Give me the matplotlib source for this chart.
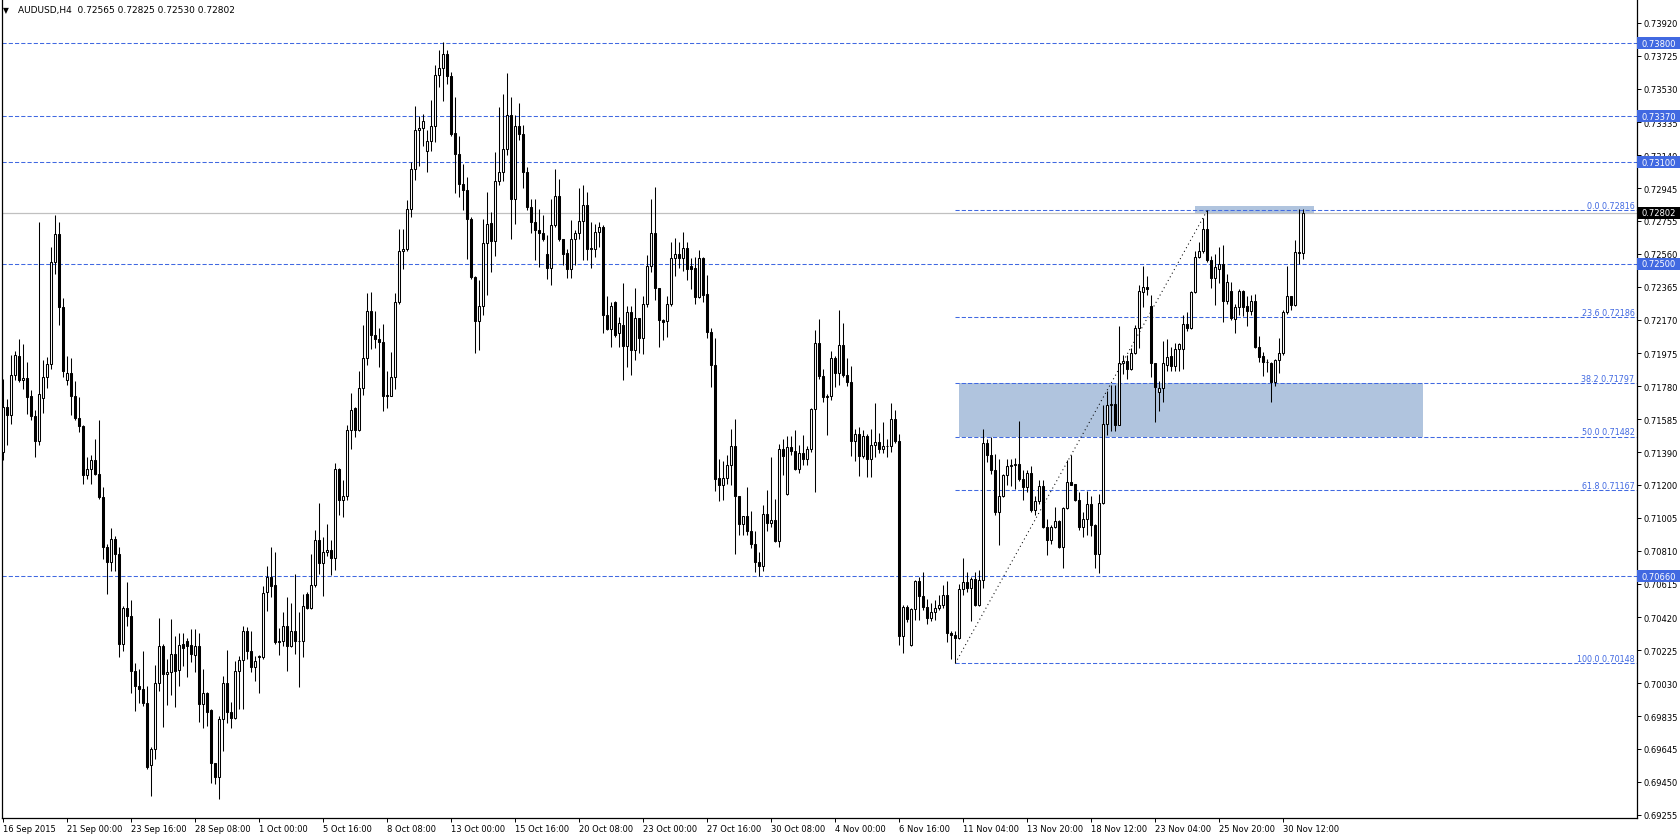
"""AUDUSD H4 candlestick chart, MetaTrader style."""
import matplotlib
matplotlib.use("Agg")
import matplotlib.pyplot as plt
import matplotlib.transforms as mtransforms
from matplotlib.patches import Rectangle
import numpy as np

OPEN = [
    .71392, .71657, .71608, .71844, .71958, .71815, .71828, .71722, .71604, .71457,
    .71710, .71834, .71913, .72513, .72674, .72247, .71815, .71860, .71722, .71592,
    .71545, .71254, .71293, .71345, .71264, .71126, .70831, .70743, .70880, .70792,
    .70261, .70471, .70424, .70103, .70015, .69995, .69913, .69549, .69641, .70031,
    .70247, .70084, .70099, .70202, .70109, .70260, .70280, .70255, .70196, .70247,
    .69907, .69972, .69871, .69563, .69480, .69818, .70031, .69863, .69828, .70100,
    .70166, .70336, .70221, .70123, .70182, .70182, .70566, .70658, .70609, .70271,
    .70281, .70369, .70247, .70336, .70277, .70277, .70556, .70471, .70611, .70876,
    .70737, .70806, .70814, .70768, .71290, .71107, .71134, .71519, .71650, .71524,
    .71769, .71944, .72223, .72079, .72056, .72038, .71730, .71719, .71833, .72276,
    .72578, .72585, .72826, .73060, .73289, .73300, .73163, .73225, .73312, .73614,
    .73656, .73736, .73605, .73271, .73145, .72968, .72934, .72762, .72425, .72166,
    .72253, .72624, .72743, .72633, .72988, .73041, .73178, .73378, .72880, .73311,
    .73262, .73041, .72835, .72747, .72698, .72684, .72561, .72477, .72731, .72898,
    .72649, .72567, .72469, .72649, .72684, .72753, .72849, .72594, .72586, .72688,
    .72718, .72199, .72116, .72273, .72091, .72140, .72018, .72218, .71993, .72179,
    .72061, .72261, .72488, .72684, .72359, .72169, .72163, .72263, .72533, .72558,
    .72533, .72592, .72487, .72474, .72306, .72533, .72320, .72096, .71903, .71240,
    .71195, .71240, .71317, .71427, .71132, .70969, .71014, .70929, .70851, .70747,
    .70719, .71028, .70975, .70994, .70870, .71407, .71146, .71421, .71396, .71293,
    .71388, .71352, .71411, .71643, .72035, .71839, .71715, .71719, .71945, .71856,
    .72023, .71848, .71803, .71454, .71499, .71368, .71489, .71348, .71436, .71450,
    .71407, .71426, .71426, .71587, .71454, .70311, .70478, .70253, .70468, .70635,
    .70543, .70478, .70413, .70449, .70472, .70492, .70551, .70327, .70317, .70296,
    .70586, .70629, .70590, .70645, .70492, .70640, .71447, .71373, .71284, .71039,
    .71133, .71255, .71310, .71318, .71324, .71235, .71186, .71269, .71049, .71102,
    .71192, .70950, .70872, .70950, .70984, .70833, .71062, .71216, .71206, .71108,
    .70950, .71000, .71088, .70960, .70793, .71094, .71559, .71671, .71677, .71553,
    .71919, .71926, .71879, .71978, .72123, .72337, .72363, .72251, .71917, .71744,
    .71768, .71906, .71956, .71901, .71999, .71999, .72147, .72121, .72333, .72539,
    .72578, .72706, .72520, .72415, .72470, .72500, .72284, .72343, .72176, .72245,
    .72343, .72251, .72225, .72284, .72009, .71956, .71921, .71917, .71807, .71931,
    .71976, .72215, .72310, .72255, .72569, .72565,
]
HIGH = [
    .71824, .71706, .71962, .71986, .72060, .72031, .71923, .71756, .71638, .72749,
    .71933, .71952, .72601, .72788, .72745, .72300, .71958, .71946, .71811, .71716,
    .71553, .71362, .71372, .71466, .71579, .71185, .70851, .70943, .70900, .70831,
    .70487, .70629, .70520, .70149, .70117, .70219, .70015, .69657, .70137, .70414,
    .70260, .70172, .70408, .70310, .70326, .70326, .70294, .70351, .70351, .70326,
    .70113, .69976, .69877, .69563, .69838, .70074, .70227, .69917, .70162, .70192,
    .70365, .70359, .70336, .70192, .70196, .70605, .70719, .70831, .70806, .70353,
    .70448, .70536, .70503, .70674, .70448, .70556, .70570, .70792, .70934, .71091,
    .70890, .70969, .70871, .71329, .71300, .71226, .71552, .71737, .71657, .71868,
    .72138, .72326, .72335, .72223, .72120, .72147, .71868, .71982, .72326, .72704,
    .72704, .72876, .73099, .73431, .73369, .73385, .73289, .73465, .73672, .73759,
    .73809, .73759, .73628, .73484, .73255, .73087, .73009, .72778, .72430, .72407,
    .72766, .72923, .72806, .73158, .73423, .73501, .73625, .73482, .73374, .73448,
    .73319, .73070, .72880, .72880, .72826, .72786, .72669, .72884, .73061, .72998,
    .72649, .72590, .72757, .72698, .72949, .72967, .72923, .72747, .72737, .72747,
    .72728, .72312, .72277, .72281, .72189, .72385, .72253, .72253, .72359, .72183,
    .72312, .72551, .72881, .72955, .72359, .72174, .72310, .72631, .72655, .72627,
    .72686, .72627, .72533, .72542, .72582, .72538, .72434, .72120, .72061, .71352,
    .71337, .71372, .71525, .71584, .71132, .71018, .71185, .71047, .70929, .70802,
    .71081, .71166, .71362, .71116, .71441, .71466, .71486, .71486, .71520, .71435,
    .71490, .71427, .71651, .72111, .72176, .71878, .71735, .71986, .71960, .72229,
    .72153, .71945, .71897, .71528, .71542, .71524, .71499, .71528, .71682, .71505,
    .71568, .71470, .71682, .71640, .71499, .70492, .70492, .70472, .70641, .70655,
    .70684, .70527, .70504, .70523, .70547, .70610, .70635, .70339, .70339, .70616,
    .70767, .70684, .70655, .70688, .70695, .71530, .71471, .71481, .71382, .71353,
    .71265, .71349, .71353, .71357, .71575, .71284, .71284, .71310, .71133, .71225,
    .71225, .71000, .70964, .71068, .70990, .71068, .71343, .71373, .71206, .71157,
    .71039, .71161, .71133, .70967, .71147, .71671, .71750, .71785, .71789, .72135,
    .71962, .71962, .72005, .72139, .72378, .72490, .72431, .72317, .71917, .71813,
    .72043, .72058, .72009, .72035, .72035, .72200, .72219, .72343, .72573, .72631,
    .72769, .72816, .72549, .72559, .72598, .72612, .72441, .72392, .72264, .72353,
    .72349, .72313, .72317, .72323, .72078, .71980, .71937, .71921, .71937, .72062,
    .72231, .72490, .72310, .72643, .72824, .72825,
]
LOW = [
    .71343, .71431, .71559, .71815, .71805, .71765, .71618, .71579, .71362, .71431,
    .71624, .71769, .71883, .72438, .72139, .71834, .71789, .71608, .71579, .71510,
    .71205, .71234, .71205, .71254, .71116, .70762, .70556, .70693, .70693, .70182,
    .70221, .70369, .69972, .69867, .69913, .69897, .69527, .69366, .69582, .69985,
    .69773, .69903, .69960, .69891, .70015, .70133, .70066, .70153, .70094, .69803,
    .69769, .69779, .69445, .69435, .69350, .69631, .69799, .69769, .69818, .69877,
    .69877, .70172, .70094, .70044, .69970, .70172, .70454, .70536, .70261, .70196,
    .70251, .70103, .70245, .70202, .70011, .70182, .70467, .70467, .70595, .70674,
    .70546, .70779, .70665, .70699, .71024, .71008, .71111, .71409, .71483, .71517,
    .71730, .71902, .72001, .72005, .71891, .71632, .71650, .71719, .71765, .72262,
    .72468, .72573, .72778, .72996, .73078, .73197, .73041, .73163, .73220, .73541,
    .73461, .73561, .73255, .72918, .72895, .72819, .72526, .72413, .71976, .71994,
    .72200, .72316, .72453, .72547, .72963, .72986, .73139, .72645, .72733, .73227,
    .72947, .72816, .72679, .72522, .72483, .72633, .72410, .72375, .72718, .72633,
    .72496, .72414, .72414, .72492, .72649, .72522, .72522, .72473, .72541, .72600,
    .72091, .72110, .72012, .72071, .72012, .71817, .71895, .71846, .71934, .71973,
    .71967, .72249, .72454, .72287, .72008, .72051, .72070, .72253, .72430, .72474,
    .72458, .72405, .72352, .72261, .72302, .72273, .72061, .71775, .71165, .71101,
    .71112, .71205, .71199, .70792, .70904, .70904, .70904, .70825, .70684, .70664,
    .70693, .70924, .70949, .70861, .70831, .71254, .71140, .71372, .71284, .71270,
    .71313, .71313, .71392, .71159, .71823, .71689, .71493, .71701, .71774, .71784,
    .71833, .71780, .71367, .71342, .71250, .71354, .71244, .71244, .71362, .71387,
    .71387, .71362, .71391, .71446, .70256, .70209, .70390, .70249, .70400, .70400,
    .70459, .70380, .70399, .70400, .70459, .70472, .70276, .70174, .70148, .70289,
    .70547, .70567, .70394, .70488, .70488, .70590, .71333, .71265, .71023, .70846,
    .71127, .71196, .71194, .71176, .71219, .71108, .71157, .71039, .71023, .71088,
    .70944, .70787, .70852, .70944, .70826, .70709, .71054, .71196, .71102, .70931,
    .70892, .70905, .70900, .70709, .70681, .71088, .71490, .71514, .71514, .71549,
    .71854, .71820, .71873, .71972, .72005, .72245, .72317, .71832, .71570, .71636,
    .71689, .71872, .71872, .71872, .71872, .71882, .72107, .72115, .72329, .72533,
    .72565, .72513, .72357, .72255, .72386, .72156, .72264, .72172, .72094, .72200,
    .72196, .72133, .72200, .72003, .71925, .71838, .71866, .71689, .71779, .71858,
    .71964, .72206, .72231, .72251, .72500, .72530,
]
CLOSE = [
    .71657, .71608, .71844, .71966, .71815, .71828, .71716, .71604, .71457, .71736,
    .71834, .71913, .72513, .72674, .72247, .71868, .71860, .71722, .71592, .71545,
    .71254, .71293, .71345, .71264, .71126, .70831, .70743, .70880, .70792, .70261,
    .70471, .70424, .70103, .70015, .69995, .69913, .69539, .69641, .70031, .70247,
    .70084, .70099, .70202, .70103, .70255, .70235, .70250, .70202, .70247, .69907,
    .69972, .69862, .69563, .69480, .69818, .70031, .69863, .69828, .70100, .70166,
    .70336, .70221, .70123, .70159, .70192, .70562, .70654, .70601, .70271, .70281,
    .70369, .70247, .70336, .70277, .70280, .70487, .70471, .70611, .70876, .70737,
    .70806, .70814, .70768, .71290, .71107, .71134, .71519, .71639, .71524, .71769,
    .71944, .72223, .72079, .72056, .72038, .71719, .71719, .71833, .72276, .72578,
    .72585, .72826, .73060, .73289, .73300, .73342, .73225, .73312, .73614, .73656,
    .73736, .73605, .73266, .73145, .72968, .72934, .72762, .72425, .72166, .72253,
    .72624, .72737, .72633, .72988, .73041, .73178, .73378, .72880, .73311, .73262,
    .73041, .72835, .72747, .72698, .72684, .72645, .72477, .72731, .72898, .72645,
    .72561, .72469, .72649, .72684, .72753, .72849, .72586, .72586, .72688, .72718,
    .72199, .72116, .72253, .72081, .72154, .72018, .72218, .71993, .72183, .72061,
    .72261, .72488, .72684, .72359, .72169, .72155, .72263, .72533, .72558, .72533,
    .72592, .72470, .72470, .72306, .72533, .72316, .72096, .71903, .71234, .71195,
    .71240, .71317, .71427, .71132, .70969, .71014, .70924, .70851, .70743, .70719,
    .71028, .70975, .70994, .70870, .71407, .71368, .71421, .71396, .71293, .71388,
    .71352, .71411, .71643, .72035, .71839, .71715, .71719, .71945, .71856, .72023,
    .71848, .71803, .71454, .71499, .71368, .71489, .71348, .71436, .71450, .71407,
    .71426, .71430, .71587, .71454, .70311, .70478, .70406, .70468, .70635, .70543,
    .70478, .70413, .70449, .70472, .70492, .70551, .70327, .70317, .70296, .70586,
    .70629, .70590, .70645, .70492, .70640, .71447, .71373, .71284, .71039, .71133,
    .71255, .71310, .71318, .71322, .71235, .71186, .71269, .71049, .71102, .71192,
    .70950, .70872, .70950, .70984, .70833, .71062, .71216, .71196, .71108, .70950,
    .71000, .71088, .70960, .70793, .71094, .71559, .71671, .71677, .71553, .71919,
    .71926, .71879, .71978, .72123, .72339, .72363, .72353, .71917, .71774, .71768,
    .71917, .71950, .71901, .71999, .72029, .72147, .72121, .72333, .72539, .72578,
    .72706, .72520, .72415, .72480, .72500, .72284, .72392, .72180, .72245, .72343,
    .72245, .72225, .72284, .72009, .71950, .71921, .71925, .71807, .71931, .71976,
    .72215, .72310, .72255, .72569, .72565, .72802,
]

DATE_LABELS = [
    "16 Sep 2015", "21 Sep 00:00", "23 Sep 16:00", "28 Sep 08:00", "1 Oct 00:00",
    "5 Oct 16:00", "8 Oct 08:00", "13 Oct 00:00", "15 Oct 16:00", "20 Oct 08:00",
    "23 Oct 00:00", "27 Oct 16:00", "30 Oct 08:00", "4 Nov 00:00", "6 Nov 16:00",
    "11 Nov 04:00", "13 Nov 20:00", "18 Nov 12:00", "23 Nov 04:00", "25 Nov 20:00",
    "30 Nov 12:00",
]
PRICE_TICKS = [
    0.73920, 0.73725, 0.73530, 0.73335, 0.73140, 0.72945, 0.72755, 0.72560, 0.72365,
    0.72170, 0.71975, 0.71780, 0.71585, 0.71390, 0.71200, 0.71005, 0.70810, 0.70615,
    0.70420, 0.70225, 0.70030, 0.69835, 0.69645, 0.69450, 0.69255,
]
LEVELS = [0.73800, 0.73370, 0.73100, 0.72500, 0.70660]
BID = 0.72802
FIB_PCT = ["0.0", "23.6", "38.2", "50.0", "61.8", "100.0"]
FIB_PRICE = [0.72816, 0.72186, 0.71797, 0.71482, 0.71167, 0.70148]
FIB_BARS = [238, 301]          # swing low bar, swing high bar
ZONE = [239.0, 354.9, 0.71482, 0.71797]
TOP_ZONE = [297.9, 327.7, 0.72796, 0.72840]
TITLE = "AUDUSD,H4  0.72565 0.72825 0.72530 0.72802"

BLUE = "#4169e1"
ZONE_COLOR = "#b0c4de"
W, H = 1681, 837


def main():
    fig = plt.figure(figsize=(W / 100, H / 100), dpi=100)
    ax = fig.add_axes([2 / W, 18 / H, 1635 / W, 819 / H])
    ax.set_xlim(-0.325, 408.43)
    ax.set_ylim(0.692366, 0.74060)

    o = np.array(OPEN)
    h = np.array(HIGH)
    lo = np.array(LOW)
    c = np.array(CLOSE)
    x = np.arange(len(c))
    up = c >= o
    bottom = np.minimum(o, c)
    height = np.maximum(np.abs(c - o), 0.00002)

    # zones and lines behind the candles
    ax.add_patch(Rectangle((ZONE[0], ZONE[2]), ZONE[1] - ZONE[0], ZONE[3] - ZONE[2],
                           facecolor=ZONE_COLOR, edgecolor="none", zorder=0.5))
    ax.add_patch(Rectangle((TOP_ZONE[0], TOP_ZONE[2]), TOP_ZONE[1] - TOP_ZONE[0],
                           TOP_ZONE[3] - TOP_ZONE[2],
                           facecolor=ZONE_COLOR, edgecolor="none", zorder=0.5))
    ax.axhline(BID, color="#c0c0c0", lw=0.9, zorder=1)
    for lv in LEVELS:
        ax.axhline(lv, color=BLUE, lw=0.75, ls=(0, (4, 2)), zorder=1.2)
    ax.hlines(FIB_PRICE, FIB_BARS[0], 408.43, color=BLUE, lw=0.75,
              linestyles=[(0, (4, 2))], zorder=1.2)
    ax.plot([FIB_BARS[0], FIB_BARS[1]], [FIB_PRICE[-1], FIB_PRICE[0]],
            color="black", lw=0.75, ls=(0, (1, 3)), zorder=1.3)

    # candles
    ax.vlines(x, lo, h, color="black", lw=0.75, zorder=3)
    ax.bar(x[up], height[up], 0.5, bottom=bottom[up], facecolor="white",
           edgecolor="black", lw=0.75, zorder=4)
    ax.bar(x[~up], height[~up], 0.5, bottom=bottom[~up], facecolor="black",
           edgecolor="black", lw=0.75, zorder=4)

    # fibo labels
    bt = mtransforms.blended_transform_factory(ax.transAxes, ax.transData)
    for pct, pr in zip(FIB_PCT, FIB_PRICE):
        ax.text(0.9985, pr + 0.00003, f"{pct} {pr:.5f}", transform=bt, ha="right",
                va="bottom", fontsize=5.8, color=BLUE, zorder=5)

    # axes look
    ax.spines["top"].set_visible(False)
    for side in ["left", "right", "bottom"]:
        ax.spines[side].set_linewidth(0.9)
    ax.yaxis.tick_right()
    ax.set_yticks(PRICE_TICKS)
    ax.set_yticklabels([f"{t:.5f}" for t in PRICE_TICKS])
    ax.tick_params(axis="y", direction="out", length=3, width=0.7, pad=2,
                   labelsize=6)
    ax.set_xticks(np.arange(0, 16 * len(DATE_LABELS), 16))
    ax.set_xticklabels(DATE_LABELS, ha="left")
    ax.tick_params(axis="x", direction="out", length=3, width=0.7, pad=1.5,
                   labelsize=6)

    # price boxes on the axis
    box_h = 0.00070
    for lv in LEVELS:
        ax.add_patch(Rectangle((1.0, lv - box_h / 2), 44 / 1635, box_h, transform=bt,
                               facecolor=BLUE, edgecolor="none", clip_on=False,
                               zorder=6))
        ax.text(1.0 + 5 / 1635, lv, f"{lv:.5f}", transform=bt, ha="left",
                va="center", fontsize=6, color="white", zorder=7, clip_on=False)
    ax.add_patch(Rectangle((1.0, BID - box_h / 2), 44 / 1635, box_h, transform=bt,
                           facecolor="black", edgecolor="none", clip_on=False,
                           zorder=6))
    ax.text(1.0 + 5 / 1635, BID, f"{BID:.5f}", transform=bt, ha="left",
            va="center", fontsize=6, color="white", zorder=7, clip_on=False)

    # header
    fig.text(3 / W, 1 - 11 / H, "\u25bc", fontsize=5.5, va="center", ha="left")
    fig.text(18 / W, 1 - 11 / H, TITLE, fontsize=6.5, va="center", ha="left")

    fig.savefig("out.png", dpi=100, facecolor="white")


if __name__ == "__main__":
    main()
